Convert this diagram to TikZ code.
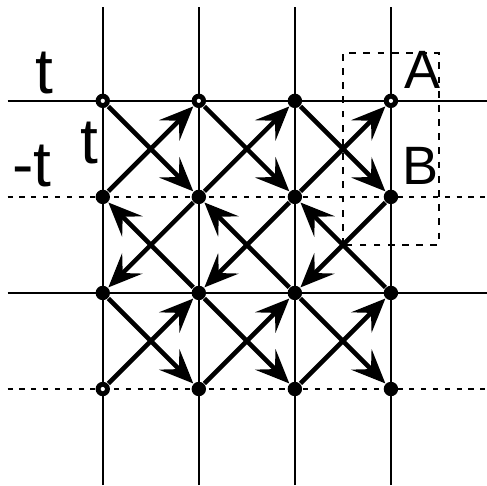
\documentclass[tikz,border=0pt]{standalone}
\usepackage{fontspec}
\setmainfont{Liberation Sans}
\usetikzlibrary{arrows.meta}

\begin{document}
\begin{tikzpicture}[
        site/.style={circle,fill=black,inner sep=0pt,minimum size=0.15cm},
        hop/.style={line width=1.35pt,-{Stealth[length=10pt,width=8.5pt,inset=4pt]}},
        gridline/.style={line width=0.6pt},
        lbl/.style={font=\fontsize{19}{19}\selectfont,inner sep=0pt}]
            \useasboundingbox (-0.07,0) rectangle (5.0,5.05);
            % lattice lines
            \foreach \x in {1,...,4}
                \draw[gridline] (\x,0) -- (\x,4.98);
            \draw[gridline] (0.01,4) -- (5,4);
            \draw[gridline] (0.01,2) -- (5,2);
            \draw[gridline,dash pattern=on 1.5pt off 2pt] (0.01,3) -- (5,3);
            \draw[gridline,dash pattern=on 1.5pt off 2pt] (0.01,1) -- (5,1);
            \draw[line width=0.7pt,dash pattern=on 2pt off 2.2pt] (3.5,2.5) rectangle (4.5,4.5);
            % sites
            \foreach \x in {1,...,4}
                \foreach \y in {1,...,4}
                    \node[site] (s\x\y) at (\x,\y) {};
            \foreach \s in {14,24,44,11}
                \fill[white] (s\s) circle (0.022cm);
            % hoppings
            \foreach \a/\b in {14/23,13/24,24/33,23/34,34/43,33/44,
                               22/13,23/12,32/23,33/22,42/33,43/32,
                               12/21,11/22,22/31,21/32,32/41,31/42}
                \draw[hop] (s\a) -- (s\b);
            % labels
            \node[lbl] (tt) at (0.39,4.29) {t};
            \node[lbl] (mt) at (0.26,3.32) {-t};
            \node[lbl] (ti) at (0.86,3.56) {t};
            \node[lbl,font=\fontsize{16}{16}\selectfont] (la) at (4.33,4.32) {A};
            \node[lbl,font=\fontsize{16}{16}\selectfont] (lb) at (4.31,3.32) {B};
        \end{tikzpicture}
\end{document}
